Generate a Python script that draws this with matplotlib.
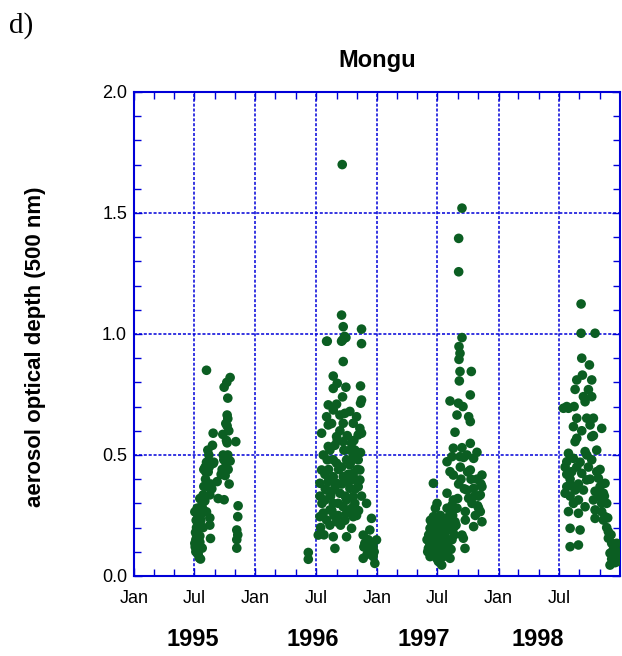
import matplotlib
matplotlib.use('Agg')
import matplotlib.pyplot as plt
import matplotlib.dates as mdates
from matplotlib.ticker import MultipleLocator
import pandas as pd

# day of year / aerosol optical depth (500 nm) for each burning season
doy95 = [218, 289, 279, 271, 282, 280, 282, 276, 238, 267,
         280, 306, 236, 225, 268, 282, 279, 289, 218, 238,
         223, 216, 274, 286, 231, 234, 228, 208, 198, 213,
         253, 271, 313, 312, 309, 312, 309, 309, 183, 203,
         218, 193, 228, 228, 188, 190, 198, 230, 183, 200,
         190, 205, 193, 196, 200, 186, 185, 195, 205, 215,
         220, 212, 190, 200, 265, 262, 275, 285, 280, 250,
         222, 210, 240, 208, 186, 198,
         184, 188, 192, 196, 201, 206, 210, 214, 226, 270,
         278, 283, 191, 187]
aod95 = [0.85, 0.82, 0.80, 0.78, 0.735, 0.665, 0.65, 0.63, 0.59, 0.585,
         0.55, 0.555, 0.54, 0.50, 0.50, 0.50, 0.47, 0.475, 0.47, 0.465,
         0.43, 0.43, 0.415, 0.38, 0.38, 0.36, 0.335, 0.335, 0.32, 0.31,
         0.32, 0.315, 0.29, 0.245, 0.19, 0.17, 0.15, 0.115, 0.265, 0.27,
         0.265, 0.24, 0.24, 0.21, 0.20, 0.185, 0.165, 0.155, 0.135, 0.12,
         0.11, 0.115, 0.09, 0.075, 0.07, 0.15, 0.18, 0.22, 0.30, 0.40,
         0.37, 0.33, 0.28, 0.25, 0.44, 0.42, 0.45, 0.60, 0.62, 0.39,
         0.52, 0.44, 0.47, 0.20, 0.10, 0.14,
         0.12, 0.17, 0.21, 0.27, 0.23, 0.28, 0.37, 0.45, 0.45, 0.48,
         0.56, 0.44, 0.14, 0.23]

doy96 = [261, 259, 264, 319, 216, 259, 272, 319, 264, 234,
         234, 246, 272, 262, 316, 319, 316, 219, 234, 214,
         254, 269, 264, 304, 314, 294, 219, 199, 244, 264,
         289, 319, 309, 219, 284, 294, 274, 224, 234, 244,
         284, 309, 314, 294, 199, 234, 264, 289, 314, 194,
         219, 244, 284, 214, 254, 309, 209, 234, 274, 294,
         224, 264, 194, 214, 244, 274, 294, 334, 349, 189,
         234, 274, 289, 239, 324, 344, 329, 349, 364, 324,
         354, 359, 339, 159, 159, 214, 262, 268,
         204, 229, 249, 279, 299, 204, 239, 259, 279, 299,
         224, 249, 269, 304, 194, 209, 254, 284, 299, 319,
         339, 344, 354, 229, 244,
         200, 210, 220, 230, 240, 250, 260, 270, 280, 290,
         300, 310, 196, 206, 226, 236, 256, 266, 276, 286,
         296, 306, 316, 246, 216, 326, 336, 346, 357]
aod96 = [1.70, 1.078, 1.03, 1.02, 0.97, 0.97, 0.985, 0.96, 0.886, 0.826,
         0.775, 0.796, 0.78, 0.74, 0.785, 0.727, 0.714, 0.707, 0.686, 0.658,
         0.665, 0.672, 0.631, 0.658, 0.61, 0.631, 0.624, 0.59, 0.576, 0.555,
         0.548, 0.59, 0.583, 0.535, 0.52, 0.493, 0.48, 0.52, 0.48, 0.466,
         0.459, 0.48, 0.438, 0.424, 0.438, 0.41, 0.41, 0.397, 0.397, 0.383,
         0.39, 0.383, 0.362, 0.355, 0.342, 0.369, 0.314, 0.30, 0.314, 0.328,
         0.273, 0.286, 0.245, 0.231, 0.224, 0.259, 0.245, 0.30, 0.238, 0.169,
         0.162, 0.162, 0.197, 0.114, 0.169, 0.19, 0.135, 0.121, 0.149, 0.073,
         0.08, 0.052, 0.107, 0.097, 0.069, 0.97, 0.975, 0.99,
         0.26, 0.35, 0.30, 0.42, 0.40, 0.50, 0.54, 0.45, 0.27, 0.30,
         0.21, 0.25, 0.23, 0.25, 0.33, 0.42, 0.60, 0.68, 0.52, 0.33,
         0.15, 0.10, 0.12, 0.63, 0.71,
         0.30, 0.36, 0.44, 0.27, 0.37, 0.44, 0.38, 0.33, 0.39, 0.28,
         0.36, 0.27, 0.20, 0.17, 0.33, 0.25, 0.21, 0.52, 0.58, 0.47,
         0.56, 0.44, 0.51, 0.56, 0.48, 0.12, 0.09, 0.14, 0.10]

doy97 = [255, 245, 245, 255, 246, 249, 246, 249, 283, 247,
         280, 219, 244, 258, 240, 275, 280, 234, 280, 229,
         255, 300, 210, 225, 249, 270, 290, 229, 219, 280,
         315, 169, 270, 290, 315, 310, 275, 210, 229, 305,
         310, 265, 180, 175, 225, 210, 169, 189, 219, 234,
         315, 265, 290, 255, 159, 179, 199, 169, 189, 159,
         214, 259, 264, 154, 174, 189, 204, 159, 179, 199,
         219, 194,
         150, 155, 165, 170, 175, 180, 185, 190, 195, 200,
         205, 210, 215, 220, 225, 230, 164, 184, 209, 184,
         170, 160, 240, 245, 250, 285, 295, 300, 305, 260,
         152, 157, 162, 167, 172, 177, 182, 187, 192, 197,
         202, 207, 212, 217, 222, 227, 232, 237, 242, 252,
         262, 272, 282, 292, 302, 312]
aod97 = [1.52, 1.395, 1.257, 0.985, 0.948, 0.92, 0.895, 0.845, 0.845, 0.806,
         0.748, 0.723, 0.714, 0.70, 0.665, 0.658, 0.638, 0.594, 0.548, 0.528,
         0.53, 0.511, 0.472, 0.493, 0.493, 0.50, 0.486, 0.417, 0.431, 0.438,
         0.417, 0.383, 0.355, 0.362, 0.369, 0.335, 0.321, 0.342, 0.314, 0.28,
         0.266, 0.266, 0.30, 0.28, 0.293, 0.28, 0.245, 0.231, 0.252, 0.224,
         0.224, 0.231, 0.204, 0.169, 0.197, 0.183, 0.176, 0.156, 0.142, 0.128,
         0.149, 0.156, 0.114, 0.114, 0.10, 0.107, 0.114, 0.08, 0.073, 0.08,
         0.073, 0.045,
         0.15, 0.17, 0.21, 0.13, 0.16, 0.22, 0.18, 0.25, 0.13, 0.20,
         0.16, 0.24, 0.19, 0.27, 0.15, 0.20, 0.09, 0.12, 0.10, 0.06,
         0.19, 0.23, 0.28, 0.38, 0.45, 0.30, 0.25, 0.40, 0.33, 0.49,
         0.10, 0.14, 0.18, 0.11, 0.24, 0.14, 0.09, 0.20, 0.16, 0.23,
         0.12, 0.19, 0.13, 0.22, 0.11, 0.25, 0.17, 0.21, 0.32, 0.40,
         0.36, 0.43, 0.40, 0.33, 0.29, 0.38]

doy98 = [248, 248, 290, 250, 273, 252, 280, 235, 230, 255,
         280, 205, 227, 235, 265, 285, 275, 310, 225, 235,
         280, 230, 260, 210, 205, 280, 225, 220, 250, 295,
         300, 320, 265, 205, 230, 255, 305, 315, 200, 225,
         240, 285, 310, 325, 260, 210, 240, 290, 310, 320,
         215, 245, 215, 240, 290, 315, 330, 330, 340, 350,
         335, 355, 335, 345, 355, 195, 210,
         200, 215, 245, 270, 290, 300, 250, 260, 270, 340,
         350, 345, 355, 325, 240,
         205, 215, 225, 235, 265, 275, 285, 295, 305, 318,
         328, 338, 348, 358]
aod98 = [1.124, 1.003, 1.003, 0.90, 0.872, 0.83, 0.81, 0.81, 0.771, 0.741,
         0.741, 0.70, 0.70, 0.652, 0.652, 0.652, 0.624, 0.61, 0.617, 0.569,
         0.576, 0.555, 0.514, 0.507, 0.472, 0.48, 0.486, 0.431, 0.424, 0.431,
         0.404, 0.383, 0.397, 0.369, 0.355, 0.355, 0.369, 0.342, 0.342, 0.30,
         0.314, 0.314, 0.30, 0.30, 0.286, 0.266, 0.259, 0.273, 0.266, 0.245,
         0.197, 0.19, 0.121, 0.128, 0.238, 0.231, 0.183, 0.156, 0.135, 0.121,
         0.094, 0.10, 0.045, 0.066, 0.135, 0.693, 0.693,
         0.45, 0.40, 0.47, 0.45, 0.35, 0.33, 0.60, 0.72, 0.77, 0.07,
         0.055, 0.11, 0.08, 0.20, 0.38,
         0.42, 0.33, 0.37, 0.45, 0.50, 0.40, 0.58, 0.52, 0.44, 0.33,
         0.24, 0.17, 0.09, 0.06]

seasons = {1995: (doy95, aod95), 1996: (doy96, aod96),
           1997: (doy97, aod97), 1998: (doy98, aod98)}

tick_dates = pd.date_range('1995-01-01', '1998-07-01', freq='6MS')
tick_labels = ['Jan', 'Jul'] * 4
years = ['1995', '1996', '1997', '1998']

plt.rcParams['font.family'] = ['Liberation Sans', 'DejaVu Sans']
blue = '#0000d8'
green = '#0b5e22'

fig = plt.figure(figsize=(6.22, 6.56), dpi=100)
ax = fig.add_axes([0.2154, 0.122, 0.7814, 0.7378])

for yr, (doy, aod) in seasons.items():
    t = pd.Timestamp(f'{yr}-01-01') + pd.to_timedelta(doy, unit='D')
    ax.scatter(t, aod, s=48, color=green, edgecolors='none', zorder=3)

ax.set_xlim(pd.Timestamp('1995-01-01'), pd.Timestamp('1999-01-01'))
ax.set_ylim(0, 2.0)

ax.set_xticks(tick_dates)
ax.set_xticklabels(tick_labels)
ax.xaxis.set_minor_locator(mdates.MonthLocator(bymonth=[3, 5, 9, 11]))
ax.yaxis.set_major_locator(MultipleLocator(0.5))
ax.yaxis.set_minor_locator(MultipleLocator(0.1))
ax.yaxis.set_major_formatter(plt.FormatStrFormatter('%.1f'))

ax.grid(True, which='major', color=blue, linestyle=(0, (2, 1.2)), linewidth=1.1)
ax.tick_params(which='both', direction='in', colors=blue, labelcolor='black',
               top=True, right=True, labelsize=13)
ax.tick_params(which='major', length=6, width=1)
ax.tick_params(which='minor', length=5, width=1)
ax.tick_params(axis='x', pad=10)
ax.tick_params(axis='y', pad=5)
for sp in ax.spines.values():
    sp.set_color(blue)
    sp.set_linewidth(1.5)

ax.set_ylabel('aerosol optical depth (500 nm)', fontsize=16, fontweight='bold')
ax.yaxis.set_label_coords(-0.181, 0.473)
ax.set_title('Mongu', fontsize=17, fontweight='bold', pad=18)

year_x = [193, 313, 424, 538]
for xp, lab in zip(year_x, years):
    fig.text(xp / 622, 1 - 640 / 656, lab, fontsize=17, fontweight='bold',
             ha='center', va='center')

fig.text(9 / 622, 1 - 26 / 656, 'd)', fontsize=21, family='Liberation Serif',
         ha='left', va='center')

fig.savefig('out.png', dpi=100)
